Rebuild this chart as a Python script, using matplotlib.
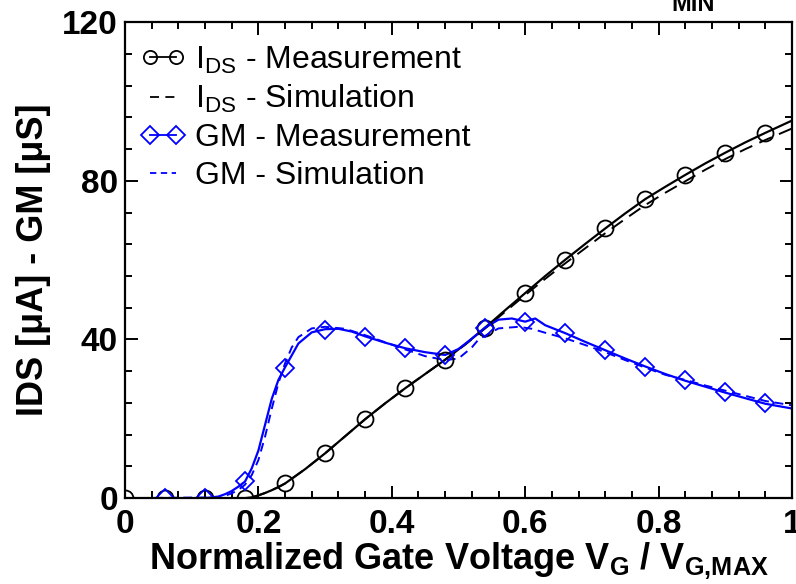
import matplotlib
matplotlib.use("Agg")
import matplotlib.pyplot as plt
from matplotlib.ticker import MultipleLocator

plt.rcParams['font.family'] = ['Liberation Sans', 'DejaVu Sans']
plt.rcParams['mathtext.fontset'] = 'custom'
plt.rcParams['mathtext.rm'] = 'Liberation Sans'
plt.rcParams['mathtext.bf'] = 'Liberation Sans:bold'
plt.rcParams['mathtext.it'] = 'Liberation Sans:italic'

# measured points (markers)
vg_ids_meas = [0.00, 0.06, 0.12, 0.18, 0.24, 0.30, 0.36, 0.42, 0.48, 0.54,
               0.60, 0.66, 0.72, 0.78, 0.84, 0.90, 0.96]
ids_meas = [0.0, 0.0, 0.0, 0.0, 3.7, 11.3, 20.0, 27.7, 34.9, 43.0,
            51.7, 60.1, 68.0, 75.5, 81.4, 87.0, 92.0]

vg_gm_meas = [0.06, 0.12, 0.18, 0.24, 0.30, 0.36, 0.42, 0.48, 0.54,
              0.60, 0.66, 0.72, 0.78, 0.84, 0.90, 0.96]
gm_meas = [0.0, 0.0, 4.2, 32.8, 42.4, 40.6, 37.8, 36.0, 42.9,
           44.4, 41.6, 37.3, 33.1, 29.7, 26.8, 23.9]

# measured curves (full sweep)
vg_ids_curve = [0.00, 0.06, 0.12, 0.18, 0.19, 0.20, 0.21, 0.22, 0.23, 0.24,
                0.27, 0.30, 0.33, 0.36, 0.39, 0.42, 0.45, 0.48, 0.51, 0.54,
                0.57, 0.60, 0.63, 0.66, 0.69, 0.72, 0.75, 0.78, 0.81, 0.84,
                0.87, 0.90, 0.93, 0.96, 1.00]
ids_curve = [0.0, 0.0, 0.0, 0.0, 0.2, 0.7, 1.3, 2.0, 2.8, 3.7,
             7.3, 11.3, 15.6, 19.9, 23.9, 27.7, 31.3, 34.9, 38.8, 43.0,
             47.4, 51.7, 56.0, 60.1, 64.1, 68.0, 71.8, 75.4, 78.5, 81.5,
             84.4, 87.1, 89.7, 92.1, 95.2]

vg_gm_curve = [0.00, 0.12, 0.14, 0.15, 0.16, 0.17, 0.18, 0.19, 0.20, 0.21,
               0.22, 0.23, 0.24, 0.26, 0.28, 0.30, 0.32, 0.34, 0.36, 0.39,
               0.42, 0.45, 0.48, 0.50, 0.52, 0.54, 0.56, 0.58, 0.60, 0.615,
               0.63, 0.66, 0.69, 0.72, 0.75, 0.78, 0.81, 0.84, 0.87, 0.90,
               0.93, 0.96, 1.00]
gm_curve = [0.0, 0.0, 0.4, 1.0, 1.8, 2.9, 4.2, 7.5, 12.0, 18.5,
            25.0, 29.8, 33.0, 39.0, 41.8, 42.6, 42.7, 42.0, 40.8, 39.2,
            37.8, 36.8, 36.1, 37.6, 40.2, 43.0, 45.0, 45.3, 44.5, 45.3,
            43.6, 41.6, 39.4, 37.3, 35.2, 33.2, 31.3, 29.6, 28.1, 26.6,
            25.2, 23.8, 22.6]

# simulated curves
vg_ids_sim = [0.00, 0.18, 0.19, 0.20, 0.21, 0.22, 0.23, 0.24, 0.27, 0.30,
              0.33, 0.36, 0.39, 0.42, 0.45, 0.48, 0.51, 0.54, 0.57, 0.60,
              0.63, 0.66, 0.69, 0.72, 0.75, 0.78, 0.81, 0.84, 0.87, 0.90,
              0.93, 0.96, 1.00]
ids_sim = [0.0, 0.0, 0.2, 0.7, 1.3, 2.0, 2.8, 3.7, 7.3, 11.3,
           15.6, 19.9, 23.9, 27.7, 31.3, 34.9, 38.7, 42.8, 47.0, 51.2,
           55.3, 59.2, 63.0, 66.8, 70.4, 73.9, 77.0, 79.9, 82.8, 85.5,
           88.0, 90.3, 93.2]

vg_gm_sim = [0.00, 0.14, 0.15, 0.16, 0.17, 0.18, 0.19, 0.20, 0.21, 0.22,
             0.23, 0.24, 0.25, 0.26, 0.28, 0.30, 0.33, 0.36, 0.39, 0.42,
             0.45, 0.48, 0.50, 0.52, 0.53, 0.56, 0.59, 0.61, 0.63, 0.66,
             0.69, 0.72, 0.75, 0.78, 0.81, 0.84, 0.87, 0.90, 0.93, 0.96,
             1.00]
gm_sim = [0.0, 0.2, 0.6, 1.2, 2.1, 3.4, 5.8, 9.6, 15.5, 22.5,
          29.0, 34.0, 38.0, 40.6, 42.8, 43.2, 42.7, 41.1, 39.3, 37.5,
          35.8, 34.8, 35.2, 38.0, 40.0, 42.8, 43.2, 42.7, 41.7, 40.3,
          38.6, 36.8, 34.8, 32.9, 31.1, 29.8, 28.4, 27.1, 25.8, 24.5,
          23.4]

x_ticks = [0, 0.2, 0.4, 0.6, 0.8, 1.0]
x_ticklabels = ['0', '0.2', '0.4', '0.6', '0.8', '1']
y_ticks = [0, 40, 80, 120]

blue = '#0000ff'

fig = plt.figure(figsize=(7.96, 5.84), dpi=100)
ax = fig.add_axes([0.157, 0.147, 0.838, 0.815])

ax.plot(vg_ids_curve, ids_curve, color='k', lw=1.6)
ax.plot(vg_ids_sim, ids_sim, color='k', lw=1.4, dashes=(7, 4))
ax.plot(vg_gm_curve, gm_curve, color=blue, lw=1.6)
ax.plot(vg_gm_sim, gm_sim, color=blue, lw=1.4, dashes=(4.5, 3))

ax.plot(vg_ids_meas, ids_meas, 'o', ms=11.5, mfc='none', mec='k', mew=1.3)
ax.plot(vg_gm_meas, gm_meas, 'D', ms=9, mfc='none', mec=blue, mew=1.3)

# legend entries
ax.plot([], [], 'o-', color='k', ms=9.5, mfc='none', mew=1.3, lw=1.3,
        label=r'I$_\mathregular{DS}$ - Measurement')
ax.plot([], [], color='k', lw=1.3, dashes=(5, 3.5),
        label=r'I$_\mathregular{DS}$ - Simulation')
ax.plot([], [], 'D-', color=blue, ms=9, mfc='none', mew=1.3, lw=1.3,
        label='GM - Measurement')
ax.plot([], [], color=blue, lw=1.3, dashes=(3.5, 2.5),
        label='GM - Simulation')
ax.legend(loc='upper left', bbox_to_anchor=(-0.01, 1.0), frameon=False,
          fontsize=23, numpoints=2, handlelength=1.4, handletextpad=0.3,
          labelspacing=0.24, borderaxespad=0.4, borderpad=0.3)

ax.set_xlim(0, 1)
ax.set_ylim(0, 120)
ax.set_xticks(x_ticks, x_ticklabels)
ax.set_yticks(y_ticks)
ax.xaxis.set_minor_locator(MultipleLocator(0.04))
ax.yaxis.set_minor_locator(MultipleLocator(8))

ax.tick_params(which='both', direction='in', top=True, right=True, width=1.4)
ax.tick_params(which='major', length=9, labelsize=24)
ax.tick_params(which='minor', length=5)
ax.tick_params(axis='x', pad=8)
ax.tick_params(axis='y', pad=5)
for lab in ax.get_xticklabels() + ax.get_yticklabels():
    lab.set_fontweight('bold')
for sp in ax.spines.values():
    sp.set_linewidth(1.6)

ax.set_xlabel(r'Normalized Gate Voltage V$_\mathbf{G}$ / V$_\mathbf{G{,}MAX}$',
              fontsize=26, fontweight='bold', labelpad=0)
ax.set_ylabel(u'IDS [\u03bcA] - GM [\u03bcS]', fontsize=26,
              fontweight='bold', labelpad=8)

fig.text(0.871, 1 - 11 / 584, 'MIN', fontsize=17, fontweight='bold',
         ha='center', va='baseline')

fig.savefig('out.png', dpi=100)
